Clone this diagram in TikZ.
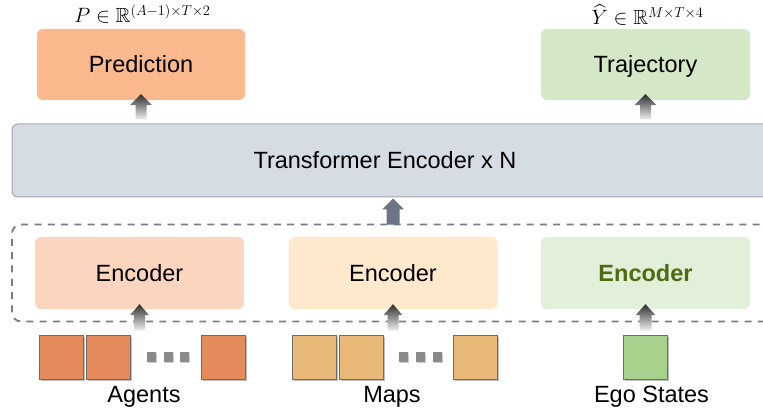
\documentclass[tikz,border=0pt]{standalone}
\usepackage{amsmath,amssymb}
\usepackage{fontspec}
\setmainfont{Liberation Sans}
\usetikzlibrary{calc,shadows}

\definecolor{predfill}{HTML}{FCB98D}
\definecolor{trajfill}{HTML}{D4E7C6}
\definecolor{trfill}{HTML}{D6DCE4}
\definecolor{trline}{HTML}{A6A8AC}
\definecolor{agencfill}{HTML}{FCD5BF}
\definecolor{mapencfill}{HTML}{FFE9CD}
\definecolor{egoencfill}{HTML}{E2EFD9}
\definecolor{agsq}{HTML}{E58B5B}
\definecolor{mapsq}{HTML}{E9B978}
\definecolor{egosq}{HTML}{A9D18E}
\definecolor{dashcol}{HTML}{767C86}
\definecolor{midarrow}{HTML}{6B7584}
\definecolor{egotext}{HTML}{4E6B12}
\definecolor{dotcol}{HTML}{8A8A8A}

% block arrow: #1 style, #2 node giving x, #3 tip, #4 base,
% #5 head half width, #6 shaft half width
\newcommand\fatarrow[6]{%
  \path[#1] let \p1=(#2), \p2=(#3), \p3=(#4) in
    (\x1-#6,\y3) -- (\x1-#6,\y2-11pt) -- (\x1-#5,\y2-11pt) -- (\x1,\y2)
    -- (\x1+#5,\y2-11pt) -- (\x1+#6,\y2-11pt) -- (\x1+#6,\y3) -- cycle;}

\begin{document}
\begin{tikzpicture}[x=1pt,y=-1pt,
  txt/.style={font=\fontsize{23.5}{28}\selectfont},
  box/.style={txt, rounded corners=6pt, inner sep=0pt, minimum height=71pt,
    text height=17pt, text depth=0pt},
  trbox/.style={rounded corners=6pt, fill=trfill, draw=trline, line width=1pt,
    minimum width=763pt, minimum height=73pt, inner sep=0pt},
  grpbox/.style={rounded corners=9pt, draw=dashcol, line width=1.8pt,
    dash pattern=on 7pt off 6.3pt, minimum width=770pt, minimum height=97pt, inner sep=0pt},
  encbox/.style={box, minimum width=209pt, minimum height=72pt},
  sq/.style={draw=gray!85!black, line width=0.8pt, minimum size=44pt, inner sep=0pt,
    drop shadow={shadow xshift=1.5pt, shadow yshift=-1.5pt, opacity=0.25, fill=black}},
  dot/.style={fill=dotcol, minimum width=9pt, minimum height=10pt, inner sep=0pt,
    drop shadow={shadow xshift=1pt, shadow yshift=-1pt, opacity=0.2, fill=black}},
  greyarrow/.style={top color=black!82, bottom color=black!6},
  darkarrow/.style={fill=midarrow},
  mathlbl/.style={font=\fontsize{20.5}{24}\selectfont, inner sep=0pt, anchor=base}
]
\useasboundingbox (0,0) rectangle (763,414);
\clip (0,0) rectangle (763,414);

% output heads
\node[box, fill=predfill, minimum width=208pt] (pred) at (141,64.5) {Prediction};
\node[box, fill=trajfill, minimum width=209pt] (traj) at (645.5,64.5) {Trajectory};
\node[mathlbl] (plbl) at (142.5,23) {$P \in \mathbb{R}^{(A-1)\times T\times 2}$};
\node[mathlbl] (ylbl) at (647.5,25) {$\widehat{Y} \in \mathbb{R}^{M\times T\times 4}$};

% backbone
\node[trbox] (tr) at (393.5,160.5) {};
\node[txt, inner sep=0pt, text height=16pt, text depth=0pt] (trlbl) at (385,160.5) {Transformer Encoder x N};

% encoders
\node[grpbox] (grp) at (397,273) {};
\node[encbox, fill=agencfill] (agenc) at (139.5,273) {Encoder};
\node[encbox, fill=mapencfill] (mapenc) at (393,273) {Encoder};
\node[encbox, fill=egoencfill, text=egotext, font=\fontsize{23.5}{28}\selectfont\bfseries] (egoenc) at (645.5,273) {Encoder};

% input tokens
\node[sq, fill=agsq] (ag1) at (61,357) {};
\node[sq, fill=agsq] (ag2) at (108.5,357) {};
\node[dot] (agd1) at (151.5,357) {};
\node[dot] (agd2) at (168,357) {};
\node[dot] (agd3) at (184.5,357) {};
\node[sq, fill=agsq] (ag3) at (223.5,357) {};

\node[sq, fill=mapsq] (mp1) at (314,357) {};
\node[sq, fill=mapsq] (mp2) at (361,357) {};
\node[dot] (mpd1) at (403.5,357) {};
\node[dot] (mpd2) at (420,357) {};
\node[dot] (mpd3) at (437,357) {};
\node[sq, fill=mapsq] (mp3) at (475.5,357) {};

\node[sq, fill=egosq] (eg1) at (645.5,357) {};

\node[txt, anchor=base, inner sep=0pt] (aglbl) at (144,402) {Agents};
\node[txt, anchor=base, inner sep=0pt] (mplbl) at (392,402) {Maps};
\node[txt, anchor=base, inner sep=0pt] (eglbl) at (651.5,402) {Ego States};

% connectors
\fatarrow{greyarrow}{pred.south}{$(pred.south)+(0,-6)$}{$(tr.north)+(0,-4)$}{11pt}{5.5pt}
\fatarrow{greyarrow}{traj.south}{$(traj.south)+(0,-6)$}{$(tr.north)+(0,-4)$}{11pt}{5.5pt}
\fatarrow{darkarrow}{mapenc.north}{$(tr.south)+(0,1)$}{$(grp.north)+(0,1)$}{11pt}{6.5pt}
\fatarrow{greyarrow}{agenc.south}{$(agenc.south)+(0,-5)$}{$(ag2.north)+(0,-4)$}{9.5pt}{5.5pt}
\fatarrow{greyarrow}{mapenc.south}{$(mapenc.south)+(0,-5)$}{$(mp2.north)+(0,-4)$}{9.5pt}{5.5pt}
\fatarrow{greyarrow}{egoenc.south}{$(egoenc.south)+(0,-5)$}{$(eg1.north)+(0,-4)$}{10pt}{6pt}
\end{tikzpicture}
\end{document}
